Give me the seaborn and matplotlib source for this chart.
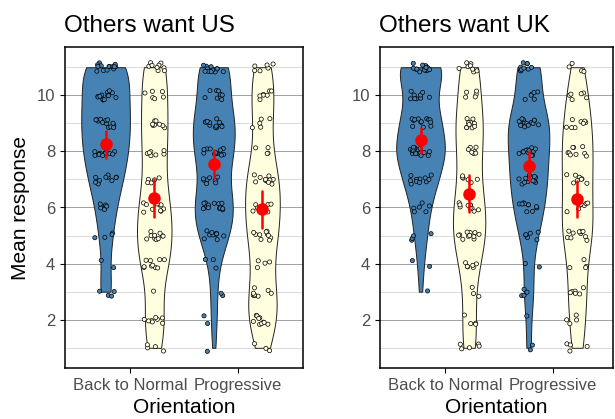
import numpy as np
import pandas as pd
import matplotlib.pyplot as plt
import seaborn as sns

# response levels and facet / category names
levels = list(range(1, 12))
panels = ["Others want US", "Others want UK"]
orientations = ["Back to Normal", "Progressive"]
groups = ["Self", "Other"]

# number of answers at each level 1..11
us_btn_self = [0, 0, 4, 2, 4, 6, 10, 13, 14, 13, 14]
us_btn_other = [4, 8, 1, 10, 10, 10, 5, 7, 8, 6, 9]
us_prog_self = [1, 2, 2, 3, 10, 14, 8, 13, 14, 9, 12]
us_prog_other = [3, 10, 8, 4, 10, 9, 11, 4, 5, 7, 6]
uk_btn_self = [0, 0, 1, 2, 4, 6, 11, 16, 13, 9, 16]
uk_btn_other = [5, 4, 3, 6, 11, 10, 6, 7, 10, 5, 8]
uk_prog_self = [2, 1, 4, 2, 6, 10, 12, 12, 15, 6, 10]
uk_prog_other = [4, 4, 6, 4, 10, 8, 8, 9, 8, 6, 4]

counts = {
    ("Others want US", "Back to Normal", "Self"): us_btn_self,
    ("Others want US", "Back to Normal", "Other"): us_btn_other,
    ("Others want US", "Progressive", "Self"): us_prog_self,
    ("Others want US", "Progressive", "Other"): us_prog_other,
    ("Others want UK", "Back to Normal", "Self"): uk_btn_self,
    ("Others want UK", "Back to Normal", "Other"): uk_btn_other,
    ("Others want UK", "Progressive", "Self"): uk_prog_self,
    ("Others want UK", "Progressive", "Other"): uk_prog_other,
}

rows = []
for (panel, orient, grp), cnt in counts.items():
    for lev, n in zip(levels, cnt):
        rows += [(panel, orient, grp, lev)] * n
df = pd.DataFrame(rows, columns=["Panel", "Orientation", "Group", "Response"])

palette = {"Self": "#4682B4", "Other": "#FFFFE0"}

# jitter for the points (display only)
rng = np.random.default_rng(7)
offs = {"Self": -0.225, "Other": 0.225}
df["xpos"] = (df["Orientation"].map({o: i for i, o in enumerate(orientations)})
              + df["Group"].map(offs) + rng.uniform(-0.1, 0.1, len(df)))
df["ypos"] = df["Response"] + rng.uniform(-0.17, 0.17, len(df))

sns.set_theme(style="white")
plt.rcParams["font.family"] = ["Liberation Sans", "DejaVu Sans"]

W, H = 615, 419
fig = plt.figure(figsize=(W / 100, H / 100), dpi=100)


def add_ax(l, r, t, b):
    return fig.add_axes([l / W, 1 - b / H, (r - l) / W, (b - t) / H])


axes = [add_ax(65, 303, 47, 368), add_ax(380, 613, 47, 368)]
xlims = [(-0.6, 1.6), (-0.6, 1.557)]

for ax, panel, xl in zip(axes, panels, xlims):
    sub = df[df["Panel"] == panel]
    sns.violinplot(data=sub, x="Orientation", y="Response", hue="Group",
                   order=orientations, hue_order=groups, palette=palette,
                   cut=0, inner=None, width=0.9, density_norm="area",
                   common_norm=True, bw_adjust=0.75, linewidth=0.7,
                   linecolor="#222222", saturation=1, legend=False, ax=ax)
    sns.scatterplot(data=sub, x="xpos", y="ypos", hue="Group", palette=palette,
                    s=9, edgecolor="black", linewidth=0.5, legend=False, ax=ax)
    sns.pointplot(data=sub, x="Orientation", y="Response", hue="Group",
                  order=orientations, hue_order=groups,
                  palette=["red", "red"], dodge=0.45, linestyle="none",
                  marker="o", markersize=7, errorbar=("se", 1.96),
                  err_kws={"linewidth": 1.8}, legend=False, ax=ax)

    ax.set_xlim(*xl)
    ax.set_ylim(0.28, 11.72)
    ax.set_xticks([0, 1])
    ax.set_xticklabels(orientations)
    ax.set_yticks([2, 4, 6, 8, 10])
    ax.set_yticks([1, 3, 5, 7, 9, 11], minor=True)
    ax.grid(axis="y", which="major", color="#a0a0a0", linewidth=0.7)
    ax.grid(axis="y", which="minor", color="#d6d6d6", linewidth=0.6)
    ax.grid(axis="x", visible=False)
    ax.set_axisbelow(True)
    for sp in ax.spines.values():
        sp.set_color("black")
        sp.set_linewidth(1.1)
    ax.tick_params(axis="both", which="major", length=3.5, width=0.8,
                   color="black", labelcolor="#4D4D4D", labelsize=12,
                   left=True, bottom=True, pad=3.5)
    ax.tick_params(axis="y", which="minor", length=0)
    ax.set_xlabel("Orientation", fontsize=15, color="black", labelpad=4)
    ax.set_ylabel("")
    ax.set_title(panel, loc="left", fontsize=17.5, pad=11, x=-0.005,
                 color="black")

axes[0].set_ylabel("Mean response", fontsize=15, color="black", labelpad=5)

fig.savefig("out.png", dpi=100)
